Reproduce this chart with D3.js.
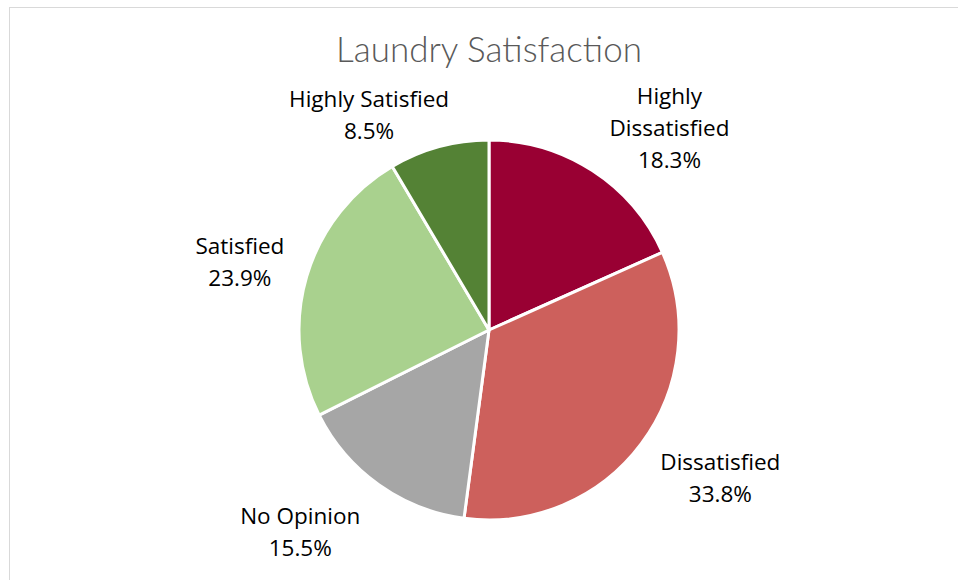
<!DOCTYPE html>
<html>
<head>
<meta charset="utf-8">
<script src="https://cdn.jsdelivr.net/npm/d3@7"></script>
<style>
  body { margin: 0; background: #fff; }
  svg { display: block; }
</style>
</head>
<body>
<div id="chart"></div>
<script>
// data
var categories = ["Highly Dissatisfied", "Dissatisfied", "No Opinion", "Satisfied", "Highly Satisfied"];
var shares = [18.3, 33.8, 15.5, 23.9, 8.5];
var colors = ["#990033", "#CD605C", "#A6A6A6", "#A9D18E", "#548235"];

var W = 958, H = 580;
var cx = 489, cy = 330, radius = 190;

// label placement: best-fit style nudges (degrees, radius) on top of the slice mid angle
var labelShift = [9, -4, 7.5, -1.3, -14];
var labelDist = [270, 275, 277, 258, 245];
var lineH = 32;

var svg = d3.select("#chart").append("svg")
    .attr("width", W)
    .attr("height", H);

// chart frame, cut off on the right and bottom like the screenshot
svg.append("rect")
    .attr("x", 9.5).attr("y", 7.5)
    .attr("width", 1000).attr("height", 1000)
    .attr("fill", "none")
    .attr("stroke", "#d9d9d9")
    .attr("stroke-width", 1);

svg.append("text")
    .attr("x", cx).attr("y", 62)
    .attr("text-anchor", "middle")
    .attr("font-family", "Lato, 'Open Sans', sans-serif")
    .attr("font-weight", 300)
    .attr("font-size", 35)
    .attr("fill", "#595959")
    .text("Laundry Satisfaction");

var pie = d3.pie().sort(null).value(function(d) { return d; });
var arcs = pie(shares);

var arc = d3.arc().innerRadius(0).outerRadius(radius);

var g = svg.append("g").attr("transform", "translate(" + cx + "," + cy + ")");

g.selectAll("path")
    .data(arcs)
    .enter().append("path")
    .attr("d", arc)
    .attr("fill", function(d, i) { return colors[i]; })
    .attr("stroke", "#fff")
    .attr("stroke-width", 3)
    .attr("stroke-linejoin", "round");

function labelLines(i) {
  var name = categories[i];
  var lines = name == "Highly Dissatisfied" ? ["Highly", "Dissatisfied"] : [name];
  lines.push(shares[i].toFixed(1) + "%");
  return lines;
}

var labels = g.selectAll("text.lbl")
    .data(arcs)
    .enter().append("text")
    .attr("class", "lbl")
    .attr("text-anchor", "middle")
    .attr("font-family", "'Open Sans', sans-serif")
    .attr("font-size", 22.5)
    .attr("fill", "#000")
    .attr("transform", function(d, i) {
      var a = (d.startAngle + d.endAngle) / 2 + labelShift[i] * Math.PI / 180;
      var x = Math.sin(a) * labelDist[i], y = -Math.cos(a) * labelDist[i];
      return "translate(" + x + "," + y + ")";
    });

labels.each(function(d, i) {
  var lines = labelLines(i);
  var t = d3.select(this);
  var top = -(lines.length - 1) * lineH / 2;
  lines.forEach(function(s, k) {
    t.append("tspan")
      .attr("x", 0)
      .attr("y", top + k * lineH + 7)
      .text(s);
  });
});
</script>
</body>
</html>
